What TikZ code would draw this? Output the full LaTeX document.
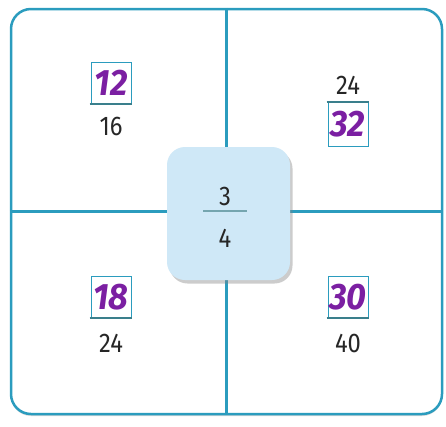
\documentclass[tikz,border=0pt]{standalone}
\usepackage{fontspec}
\setmainfont{Fira Sans}
\usetikzlibrary{shadows}
\definecolor{tealline}{HTML}{2B9CBE}
\definecolor{boxblue}{HTML}{CFE8F7}
\definecolor{purp}{HTML}{7B1FA2}
\definecolor{darkteal}{HTML}{3A7F8C}
\definecolor{numgray}{HTML}{262626}
\newcommand{\narrow}[1]{\scalebox{0.88}[1]{#1}}
\newcommand{\wideans}[1]{\scalebox{0.98}[1.05]{#1}}
\begin{document}
\begin{tikzpicture}[x=1pt,y=-1pt,
  num/.style={font=\fontsize{27}{27}\selectfont, text=numgray, inner sep=0pt},
  ans/.style={font=\fontsize{35}{35}\selectfont\bfseries\itshape, text=purp, draw=tealline, line width=0.8pt, minimum width=40pt, minimum height=41pt, inner sep=0pt},
  bar/.style={draw=darkteal, line width=2.5pt},
  grid/.style={draw=tealline, line width=2.2pt}
]
\useasboundingbox (0,0) rectangle (446,426);
\node[draw=tealline, line width=2.5pt, rounded corners=20pt, minimum width=431pt, minimum height=405pt, inner sep=0pt, fill=white,
  drop shadow={shadow xshift=0pt, shadow yshift=-2pt, opacity=0.3}] (frame) at (226.5,211.5) {};
\draw[grid] (frame.north) -- (frame.south);
\draw[grid] (frame.west) -- (frame.east);
\node[fill=boxblue, rounded corners=18pt, minimum width=123pt, minimum height=133pt, inner sep=0pt,
  drop shadow={shadow xshift=2.5pt, shadow yshift=-3.5pt, opacity=0.4}] (center) at (228.5,213.5) {};
\node[num] (c3) at (225,196) {\narrow{3}};
\node[num] (c4) at (225,238) {\narrow{4}};
\draw[draw=darkteal!70, line width=1.5pt] (203,211) -- (247,211);
% top left
\node[ans] (a12) at (111,83) {\wideans{12}};
\draw[bar] ([xshift=-1pt]a12.south west) -- ([xshift=1pt]a12.south east);
\node[num] (n16) at (111,126) {\narrow{16}};
% top right
\node[num] (n24a) at (348,85) {\narrow{24}};
\node[ans, minimum height=44pt] (a32) at (348,124.5) {\wideans{32}};
\draw[bar] ([xshift=-1pt]a32.north west) -- ([xshift=1pt]a32.north east);
% bottom left
\node[ans] (a18) at (111,297) {\wideans{18}};
\draw[bar] ([xshift=-1pt]a18.south west) -- ([xshift=1pt]a18.south east);
\node[num] (n24b) at (111,343) {\narrow{24}};
% bottom right
\node[ans] (a30) at (348,297) {\wideans{30}};
\draw[bar] ([xshift=-1pt]a30.south west) -- ([xshift=1pt]a30.south east);
\node[num] (n40) at (348,343) {\narrow{40}};
\end{tikzpicture}
\end{document}
